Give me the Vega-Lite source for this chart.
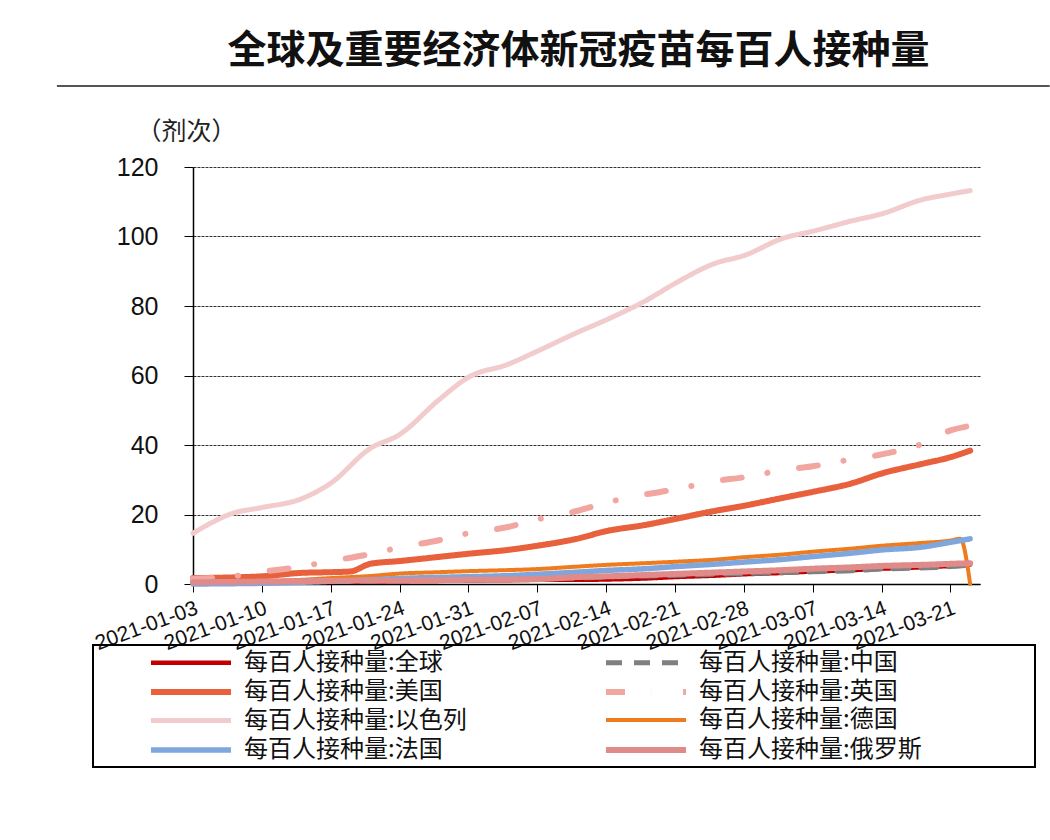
{
  "$schema": "https://vega.github.io/schema/vega-lite/v6.json",
  "width": 787,
  "height": 417,
  "autosize": {"type": "none"},
  "padding": {"left": 193, "top": 167, "right": 70, "bottom": 256},
  "background": "white",
  "title": {"text": "全球及重要经济体新冠疫苗每百人接种量", "font": "Noto Sans CJK SC", "fontSize": 39, "fontWeight": "bold", "color": "#111", "anchor": "middle", "dx": -8, "offset": 14},
  "config": {"view": {"stroke": null}, "legend": {"strokeWidth": 2}},
  "layer": [
    {
      "data": {"values": [{}]},
      "mark": {"type": "rule", "color": "#555", "strokeWidth": 2},
      "encoding": {
        "x": {"datum": {"year": 2020, "month": 12, "date": 20, "hours": 4, "utc": true}, "type": "temporal", "scale": {"type": "utc", "domain": [{"year": 2021, "month": 1, "date": 3, "utc": true}, {"year": 2021, "month": 3, "date": 24, "utc": true}]}},
        "x2": {"datum": {"year": 2021, "month": 3, "date": 31, "hours": 2, "utc": true}},
        "y": {"datum": 143.3, "type": "quantitative", "scale": {"domain": [0, 120], "nice": false}}
      }
    },
    {
      "data": {"values": [
        {"s":"全球","d":"2021-01-03","v":0.2},{"s":"全球","d":"2021-01-07","v":0.3},{"s":"全球","d":"2021-01-10","v":0.4},{"s":"全球","d":"2021-01-14","v":0.5},{"s":"全球","d":"2021-01-17","v":0.6},{"s":"全球","d":"2021-01-21","v":0.7},{"s":"全球","d":"2021-01-24","v":0.8},{"s":"全球","d":"2021-01-28","v":0.9},{"s":"全球","d":"2021-01-31","v":1.0},{"s":"全球","d":"2021-02-04","v":1.1},{"s":"全球","d":"2021-02-07","v":1.2},{"s":"全球","d":"2021-02-11","v":1.2},{"s":"全球","d":"2021-02-14","v":1.3},{"s":"全球","d":"2021-02-18","v":1.6},{"s":"全球","d":"2021-02-21","v":2.0},{"s":"全球","d":"2021-02-25","v":2.4},{"s":"全球","d":"2021-02-28","v":2.8},{"s":"全球","d":"2021-03-04","v":3.2},{"s":"全球","d":"2021-03-07","v":3.6},{"s":"全球","d":"2021-03-11","v":4.0},{"s":"全球","d":"2021-03-14","v":4.4},{"s":"全球","d":"2021-03-18","v":4.8},{"s":"全球","d":"2021-03-21","v":5.2},{"s":"全球","d":"2021-03-23","v":5.6},
        {"s":"中国","d":"2021-01-03","v":0.3},{"s":"中国","d":"2021-01-07","v":0.4},{"s":"中国","d":"2021-01-10","v":0.5},{"s":"中国","d":"2021-01-14","v":0.6},{"s":"中国","d":"2021-01-17","v":0.7},{"s":"中国","d":"2021-01-21","v":0.8},{"s":"中国","d":"2021-01-24","v":1.0},{"s":"中国","d":"2021-01-28","v":1.2},{"s":"中国","d":"2021-01-31","v":1.3},{"s":"中国","d":"2021-02-04","v":1.5},{"s":"中国","d":"2021-02-07","v":1.6},{"s":"中国","d":"2021-02-11","v":1.7},{"s":"中国","d":"2021-02-14","v":2.0},{"s":"中国","d":"2021-02-18","v":2.3},{"s":"中国","d":"2021-02-21","v":2.5},{"s":"中国","d":"2021-02-25","v":2.8},{"s":"中国","d":"2021-02-28","v":3.0},{"s":"中国","d":"2021-03-04","v":3.3},{"s":"中国","d":"2021-03-07","v":3.5},{"s":"中国","d":"2021-03-11","v":3.8},{"s":"中国","d":"2021-03-14","v":4.3},{"s":"中国","d":"2021-03-18","v":4.6},{"s":"中国","d":"2021-03-21","v":5.0},{"s":"中国","d":"2021-03-23","v":5.5},
        {"s":"美国","d":"2021-01-03","v":1.7},{"s":"美国","d":"2021-01-07","v":1.9},{"s":"美国","d":"2021-01-10","v":2.2},{"s":"美国","d":"2021-01-14","v":3.2},{"s":"美国","d":"2021-01-17","v":3.4},{"s":"美国","d":"2021-01-19","v":3.6},{"s":"美国","d":"2021-01-21","v":5.8},{"s":"美国","d":"2021-01-24","v":6.6},{"s":"美国","d":"2021-01-28","v":7.8},{"s":"美国","d":"2021-01-31","v":8.7},{"s":"美国","d":"2021-02-04","v":9.8},{"s":"美国","d":"2021-02-07","v":11.0},{"s":"美国","d":"2021-02-11","v":13.0},{"s":"美国","d":"2021-02-14","v":15.2},{"s":"美国","d":"2021-02-18","v":17.0},{"s":"美国","d":"2021-02-21","v":18.7},{"s":"美国","d":"2021-02-25","v":21.0},{"s":"美国","d":"2021-02-28","v":22.5},{"s":"美国","d":"2021-03-04","v":24.8},{"s":"美国","d":"2021-03-07","v":26.5},{"s":"美国","d":"2021-03-11","v":29.0},{"s":"美国","d":"2021-03-14","v":31.8},{"s":"美国","d":"2021-03-18","v":34.5},{"s":"美国","d":"2021-03-21","v":36.5},{"s":"美国","d":"2021-03-23","v":38.4},
        {"s":"英国","d":"2021-01-03","v":1.5},{"s":"英国","d":"2021-01-07","v":2.2},{"s":"英国","d":"2021-01-10","v":3.5},{"s":"英国","d":"2021-01-14","v":5.0},{"s":"英国","d":"2021-01-17","v":6.6},{"s":"英国","d":"2021-01-21","v":8.6},{"s":"英国","d":"2021-01-24","v":10.5},{"s":"英国","d":"2021-01-28","v":12.6},{"s":"英国","d":"2021-01-31","v":14.6},{"s":"英国","d":"2021-02-04","v":16.4},{"s":"英国","d":"2021-02-07","v":18.6},{"s":"英国","d":"2021-02-11","v":21.0},{"s":"英国","d":"2021-02-14","v":23.4},{"s":"英国","d":"2021-02-18","v":25.8},{"s":"英国","d":"2021-02-21","v":27.2},{"s":"英国","d":"2021-02-25","v":29.6},{"s":"英国","d":"2021-02-28","v":30.7},{"s":"英国","d":"2021-03-04","v":32.8},{"s":"英国","d":"2021-03-07","v":33.9},{"s":"英国","d":"2021-03-11","v":35.9},{"s":"英国","d":"2021-03-14","v":37.3},{"s":"英国","d":"2021-03-18","v":40.2},{"s":"英国","d":"2021-03-21","v":44.2},{"s":"英国","d":"2021-03-23","v":45.5},
        {"s":"以色列","d":"2021-01-03","v":14.6},{"s":"以色列","d":"2021-01-07","v":20.3},{"s":"以色列","d":"2021-01-10","v":22.0},{"s":"以色列","d":"2021-01-14","v":24.5},{"s":"以色列","d":"2021-01-17","v":29.0},{"s":"以色列","d":"2021-01-21","v":39.0},{"s":"以色列","d":"2021-01-24","v":43.0},{"s":"以色列","d":"2021-01-28","v":53.0},{"s":"以色列","d":"2021-01-31","v":59.5},{"s":"以色列","d":"2021-02-04","v":63.2},{"s":"以色列","d":"2021-02-07","v":67.0},{"s":"以色列","d":"2021-02-11","v":72.3},{"s":"以色列","d":"2021-02-14","v":76.0},{"s":"以色列","d":"2021-02-18","v":81.5},{"s":"以色列","d":"2021-02-21","v":86.5},{"s":"以色列","d":"2021-02-25","v":92.2},{"s":"以色列","d":"2021-02-28","v":94.5},{"s":"以色列","d":"2021-03-04","v":99.5},{"s":"以色列","d":"2021-03-07","v":101.5},{"s":"以色列","d":"2021-03-11","v":104.5},{"s":"以色列","d":"2021-03-14","v":106.5},{"s":"以色列","d":"2021-03-18","v":110.5},{"s":"以色列","d":"2021-03-21","v":112.2},{"s":"以色列","d":"2021-03-23","v":113.2},
        {"s":"德国","d":"2021-01-03","v":0.3},{"s":"德国","d":"2021-01-07","v":0.5},{"s":"德国","d":"2021-01-10","v":0.8},{"s":"德国","d":"2021-01-14","v":1.2},{"s":"德国","d":"2021-01-17","v":1.7},{"s":"德国","d":"2021-01-21","v":2.3},{"s":"德国","d":"2021-01-24","v":3.0},{"s":"德国","d":"2021-01-28","v":3.4},{"s":"德国","d":"2021-01-31","v":3.7},{"s":"德国","d":"2021-02-04","v":4.0},{"s":"德国","d":"2021-02-07","v":4.3},{"s":"德国","d":"2021-02-11","v":5.0},{"s":"德国","d":"2021-02-14","v":5.5},{"s":"德国","d":"2021-02-18","v":6.0},{"s":"德国","d":"2021-02-21","v":6.4},{"s":"德国","d":"2021-02-25","v":7.0},{"s":"德国","d":"2021-02-28","v":7.7},{"s":"德国","d":"2021-03-04","v":8.5},{"s":"德国","d":"2021-03-07","v":9.3},{"s":"德国","d":"2021-03-11","v":10.2},{"s":"德国","d":"2021-03-14","v":11.0},{"s":"德国","d":"2021-03-18","v":11.8},{"s":"德国","d":"2021-03-21","v":12.5},{"s":"德国","d":"2021-03-22","v":13.0},{"s":"德国","d":"2021-03-23","v":0},
        {"s":"法国","d":"2021-01-03","v":0.0},{"s":"法国","d":"2021-01-07","v":0.1},{"s":"法国","d":"2021-01-10","v":0.2},{"s":"法国","d":"2021-01-14","v":0.5},{"s":"法国","d":"2021-01-17","v":0.8},{"s":"法国","d":"2021-01-21","v":1.2},{"s":"法国","d":"2021-01-24","v":1.6},{"s":"法国","d":"2021-01-28","v":1.9},{"s":"法国","d":"2021-01-31","v":2.1},{"s":"法国","d":"2021-02-04","v":2.4},{"s":"法国","d":"2021-02-07","v":2.8},{"s":"法国","d":"2021-02-11","v":3.4},{"s":"法国","d":"2021-02-14","v":3.9},{"s":"法国","d":"2021-02-18","v":4.4},{"s":"法国","d":"2021-02-21","v":5.0},{"s":"法国","d":"2021-02-25","v":5.7},{"s":"法国","d":"2021-02-28","v":6.3},{"s":"法国","d":"2021-03-04","v":7.1},{"s":"法国","d":"2021-03-07","v":7.9},{"s":"法国","d":"2021-03-11","v":8.9},{"s":"法国","d":"2021-03-14","v":9.8},{"s":"法国","d":"2021-03-18","v":10.6},{"s":"法国","d":"2021-03-21","v":12.0},{"s":"法国","d":"2021-03-23","v":13.0},
        {"s":"俄罗斯","d":"2021-01-03","v":0.5},{"s":"俄罗斯","d":"2021-01-07","v":0.6},{"s":"俄罗斯","d":"2021-01-10","v":0.7},{"s":"俄罗斯","d":"2021-01-14","v":0.8},{"s":"俄罗斯","d":"2021-01-17","v":0.9},{"s":"俄罗斯","d":"2021-01-21","v":1.0},{"s":"俄罗斯","d":"2021-01-24","v":1.0},{"s":"俄罗斯","d":"2021-01-28","v":1.1},{"s":"俄罗斯","d":"2021-01-31","v":1.2},{"s":"俄罗斯","d":"2021-02-04","v":1.3},{"s":"俄罗斯","d":"2021-02-07","v":1.4},{"s":"俄罗斯","d":"2021-02-11","v":2.0},{"s":"俄罗斯","d":"2021-02-14","v":2.2},{"s":"俄罗斯","d":"2021-02-18","v":2.6},{"s":"俄罗斯","d":"2021-02-21","v":2.9},{"s":"俄罗斯","d":"2021-02-25","v":3.3},{"s":"俄罗斯","d":"2021-02-28","v":3.6},{"s":"俄罗斯","d":"2021-03-04","v":4.0},{"s":"俄罗斯","d":"2021-03-07","v":4.4},{"s":"俄罗斯","d":"2021-03-11","v":4.8},{"s":"俄罗斯","d":"2021-03-14","v":5.2},{"s":"俄罗斯","d":"2021-03-18","v":5.5},{"s":"俄罗斯","d":"2021-03-21","v":5.8},{"s":"俄罗斯","d":"2021-03-23","v":6.0}
      ]},
      "mark": {"type": "line", "strokeCap": "round", "strokeJoin": "round", "interpolate": "monotone"},
      "encoding": {
        "x": {
          "field": "d", "type": "temporal",
          "scale": {"type": "utc", "domain": [{"year": 2021, "month": 1, "date": 3, "utc": true}, {"year": 2021, "month": 3, "date": 24, "utc": true}]},
          "axis": {"title": null, "format": "%Y-%m-%d", "tickCount": {"interval": "week", "step": 1}, "grid": false, "domainColor": "#000", "domainWidth": 1.5, "tickColor": "#000", "tickSize": 8, "labelAngle": -20, "labelAlign": "right", "labelBaseline": "top", "labelFont": "Liberation Sans", "labelFontSize": 21, "labelColor": "#111", "labelPadding": 5, "labelOverlap": false, "labelFlush": false}
        },
        "y": {
          "field": "v", "type": "quantitative",
          "scale": {"domain": [0, 120], "nice": false},
          "axis": {"values": [0, 20, 40, 60, 80, 100, 120], "grid": true, "gridColor": "#333", "gridWidth": 1, "gridDash": [3, 1], "domainColor": "#000", "domainWidth": 1.5, "tickColor": "#000", "tickSize": 9, "labelPadding": 26, "labelFont": "Liberation Sans", "labelFontSize": 25, "labelColor": "#111", "title": "（剂次）", "titleAngle": 0, "titleAlign": "left", "titleBaseline": "middle", "titleX": -57, "titleY": -36, "titleFont": "Noto Sans CJK SC", "titleFontSize": 25, "titleFontWeight": "normal", "titleColor": "#222"}
        },
        "color": {
          "field": "s", "type": "nominal",
          "scale": {"domain": ["全球", "美国", "以色列", "法国", "中国", "英国", "德国", "俄罗斯"], "range": ["#c00000", "#e8603c", "#f2cccc", "#7fa6dd", "#808080", "#f2a6a0", "#f07b1c", "#e08a8a"]},
          "legend": {"title": " ", "titleOrient": "right", "titlePadding": 108, "orient": "none", "legendX": -100, "legendY": 478, "columns": 2, "symbolType": "M-4,0H4", "symbolSize": 400, "symbolOffset": 80, "labelOffset": 40, "labelFont": "Noto Sans CJK SC", "labelFontSize": 24, "labelColor": "#111", "labelLimit": 400, "columnPadding": 86, "rowPadding": 4, "padding": 5, "strokeColor": "#000", "labelExpr": "'每百人接种量:' + datum.label"}
        },
        "strokeDash": {
          "field": "s", "type": "nominal",
          "scale": {"domain": ["全球", "美国", "以色列", "法国", "中国", "英国", "德国", "俄罗斯"], "range": [[1, 0], [1, 0], [1, 0], [1, 0], [16, 12], [19, 26, 0.1, 32], [1, 0], [1, 0]]}
        },
        "strokeWidth": {
          "field": "s", "type": "nominal",
          "scale": {"type": "ordinal", "domain": ["全球", "美国", "以色列", "法国", "中国", "英国", "德国", "俄罗斯"], "range": [4.5, 6, 5, 5.5, 5, 6, 4, 6]}
        }
      }
    }
  ]
}
